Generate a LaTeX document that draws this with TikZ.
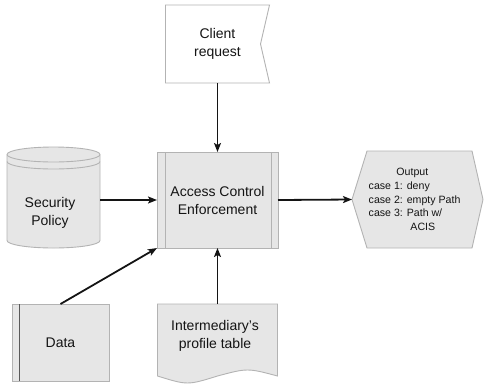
\documentclass[tikz,border=0pt]{standalone}
\usepackage{fontspec}
\setmainfont{Liberation Sans}
\usetikzlibrary{arrows.meta,backgrounds}
\definecolor{shapefill}{HTML}{E6E6E6}
\definecolor{shapeline}{HTML}{B3B3B3}
\definecolor{inkc}{HTML}{141414}
\begin{document}
\begin{tikzpicture}[x=1pt,y=-1pt,
  box/.style={inner sep=0pt, outer sep=0pt},
  txt/.style={font=\fontsize{14}{18}\selectfont, align=center, inner sep=0pt, text=inkc},
  shp/.style={draw=shapeline, fill=shapefill, line width=0.9pt},
  arr/.style={draw=inkc, line width=1.8pt, -{Stealth[length=9pt,width=7pt,inset=2pt]}}]
\useasboundingbox (0,0) rectangle (484,384);

% nodes
\node[box, txt, minimum width=104pt, minimum height=78pt] (client) at (217.5,44) {Client\\request};
\node[box, txt, minimum width=121pt, minimum height=96pt] (ace) at (217.5,200) {Access Control\\Enforcement};
\node[box, minimum width=131pt, minimum height=97pt] (out) at (417.5,199.5) {};
\node[font=\fontsize{10.6}{13.7}\selectfont, align=left, inner sep=0pt, text=inkc] (outtext) at (414.6,199.5)
  {\hspace*{27.7pt}Output\\case 1: deny\\case 2: empty Path\\case 3: Path w/\\\hspace*{41.7pt}ACIS};
\node[box, minimum width=93pt, minimum height=101pt] (sec) at (53.5,197.5) {};
\node[txt] (sectext) at (50,213) {Security\\Policy};
\node[box, txt, minimum width=97pt, minimum height=77pt] (data) at (60.5,342.5) {Data};
\node[box, minimum width=120pt, minimum height=73pt] (intm) at (217.5,340.5) {};
\node[txt] (intmtext) at (215,336) {Intermediary's\\profile table};

\begin{scope}[on background layer]
  % client request (notched card)
  \path[draw=shapeline, fill=white, line width=0.9pt] (client.north west) -- (client.north east)
    -- ([xshift=-9pt]client.east) -- (client.south east) -- (client.south west) -- cycle;
  % access control (process)
  \path[shp] (ace.north west) rectangle (ace.south east);
  \draw[shapeline, line width=0.9pt] ([xshift=8pt]ace.north west) -- ([xshift=8pt]ace.south west);
  \draw[shapeline, line width=0.9pt] ([xshift=-7pt]ace.north east) -- ([xshift=-7pt]ace.south east);
  % output hexagon
  \path[shp] (352,199.5) -- (367,151) -- (472,151) -- (483,199.5) -- (472,248) -- (367,248) -- cycle;
  % security policy cylinder
  \path[shp] (7,154.5) -- (7,240.5) .. controls (7,244.64) and (27.82,248) .. (53.5,248)
    .. controls (79.18,248) and (100,244.64) .. (100,240.5) -- (100,154.5)
    .. controls (100,150.36) and (79.18,147) .. (53.5,147)
    .. controls (27.82,147) and (7,150.36) .. cycle;
  \draw[shapeline, line width=0.9pt] (7,154.5) .. controls (7,158.64) and (27.82,162) .. (53.5,162)
    .. controls (79.18,162) and (100,158.64) .. (100,154.5);
  \draw[shapeline, line width=0.9pt] (7,161.5) .. controls (7,165.64) and (27.82,169) .. (53.5,169)
    .. controls (79.18,169) and (100,165.64) .. (100,161.5);
  % data
  \path[shp] (data.north west) rectangle (data.south east);
  \draw[black!65, line width=0.9pt] ([xshift=7pt]data.north west) -- ([xshift=7pt]data.south west);
  % intermediary document
  \path[shp] (157.5,304) -- (277.5,304) -- (277.5,376)
    .. controls (247.5,368) .. (217.5,376)
    .. controls (187.5,385.3) .. (157.5,376) -- cycle;
\end{scope}

% connectors
\draw[arr] (client.south) -- (ace.north);
\draw[arr] (sec.east |- ace.west) -- (ace.west);
\draw[arr] (data.north) -- (ace.south west);
\draw[arr] (intm.north) -- (ace.south);
\draw[arr] (ace.east) -- (out.west);
\end{tikzpicture}
\end{document}
